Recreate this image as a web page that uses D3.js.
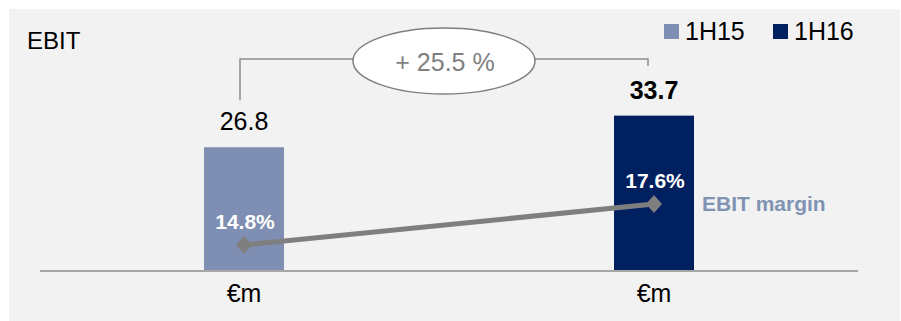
<!DOCTYPE html>
<html>
<head>
<meta charset="utf-8">
<script src="https://cdn.jsdelivr.net/npm/d3@7"></script>
<style>
  body { margin: 0; background: #ffffff; }
  text { font-family: "Liberation Sans", Arial, sans-serif; }
</style>
</head>
<body>
<div id="chart"></div>
<script>
// Data
var periods = ["1H15", "1H16"];
var ebit = [26.8, 33.7];
var margin = [14.8, 17.6];
var growth = "+ 25.5 %";
var unitLabel = "€m";

var colors = ["#7f8fb3", "#002060"];

var svgWidth = 901, svgHeight = 321;

var svg = d3.select("#chart").append("svg")
    .attr("width", svgWidth)
    .attr("height", svgHeight);

// panel
svg.append("rect")
    .attr("x", 9).attr("y", 9)
    .attr("width", 891).attr("height", 312)
    .attr("fill", "#f2f2f2");

// scales
var x = d3.scalePoint().domain(periods).range([244, 654]);
var barW = 80;
var y = d3.scaleLinear().domain([0, 40]).range([270, 86.8]);
var y2 = d3.scaleLinear().domain([10, 20]).range([315.3, 168.9]);

// bars
svg.selectAll(".bar")
    .data(periods)
    .enter().append("rect")
    .attr("class", "bar")
    .attr("x", d => x(d) - barW / 2)
    .attr("y", (d, i) => y(ebit[i]))
    .attr("width", barW)
    .attr("height", (d, i) => y(0) - y(ebit[i]))
    .attr("fill", (d, i) => colors[i]);

// baseline
svg.append("line")
    .attr("x1", 40).attr("x2", 858)
    .attr("y1", y(0) + 1).attr("y2", y(0) + 1)
    .attr("stroke", "#a6a6a6")
    .attr("stroke-width", 2);

// value labels
svg.selectAll(".val")
    .data(periods)
    .enter().append("text")
    .attr("x", d => x(d))
    .attr("y", (d, i) => y(ebit[i]) - 17)
    .attr("text-anchor", "middle")
    .attr("font-size", 25)
    .attr("font-weight", (d, i) => i == 1 ? "bold" : "normal")
    .attr("fill", "#000")
    .text((d, i) => ebit[i].toFixed(1));

// unit labels
svg.selectAll(".unit")
    .data(periods)
    .enter().append("text")
    .attr("x", d => x(d))
    .attr("y", 302)
    .attr("text-anchor", "middle")
    .attr("font-size", 25)
    .attr("fill", "#000")
    .text(unitLabel);

// margin line
var line = d3.line()
    .x(d => x(d))
    .y((d, i) => y2(margin[i]));

svg.append("path")
    .datum(periods)
    .attr("d", line)
    .attr("fill", "none")
    .attr("stroke", "#7f7f7f")
    .attr("stroke-width", 5);

svg.selectAll(".dot")
    .data(periods)
    .enter().append("path")
    .attr("transform", (d, i) => "translate(" + x(d) + "," + y2(margin[i]) + ")")
    .attr("d", "M0,-9 L8,0 L0,9 L-8,0 Z")
    .attr("fill", "#7f7f7f");

svg.selectAll(".pct")
    .data(periods)
    .enter().append("text")
    .attr("x", d => x(d) + 1)
    .attr("y", (d, i) => y2(margin[i]) - 16)
    .attr("text-anchor", "middle")
    .attr("font-size", 21)
    .attr("font-weight", "bold")
    .attr("fill", "#ffffff")
    .text((d, i) => margin[i].toFixed(1) + "%");

svg.append("text")
    .attr("x", 702).attr("y", 211)
    .attr("font-size", 21)
    .attr("font-weight", "bold")
    .attr("fill", "#8093b3")
    .text("EBIT margin");

// growth bracket
var bx1 = x(periods[0]) - 4, bx2 = x(periods[1]) - 6, by = 59;
svg.append("path")
    .attr("d", "M" + bx1 + "," + (y(ebit[0]) - 47) + " V" + by + " H" + bx2 + " V" + (by + 7))
    .attr("fill", "none")
    .attr("stroke", "#8c8c8c")
    .attr("stroke-width", 1.5);

var cx = (bx1 + bx2) / 2;
svg.append("ellipse")
    .attr("cx", cx).attr("cy", 61)
    .attr("rx", 91).attr("ry", 33)
    .attr("fill", "#ffffff")
    .attr("stroke", "#7f7f7f")
    .attr("stroke-width", 1.5);

svg.append("text")
    .attr("x", cx + 1).attr("y", 71)
    .attr("text-anchor", "middle")
    .attr("font-size", 25)
    .attr("fill", "#7f7f7f")
    .text(growth);

// title
svg.append("text")
    .attr("x", 27).attr("y", 49)
    .attr("font-size", 24)
    .attr("fill", "#000")
    .text("EBIT");

// legend
var legX = [664, 773];
var leg = svg.selectAll(".leg")
    .data(periods)
    .enter().append("g")
    .attr("transform", (d, i) => "translate(" + legX[i] + ",24)");

leg.append("rect")
    .attr("width", 15).attr("height", 15)
    .attr("fill", (d, i) => colors[i]);

leg.append("text")
    .attr("x", 21).attr("y", 16)
    .attr("font-size", 25)
    .attr("fill", "#000")
    .text(d => d);
</script>
</body>
</html>
